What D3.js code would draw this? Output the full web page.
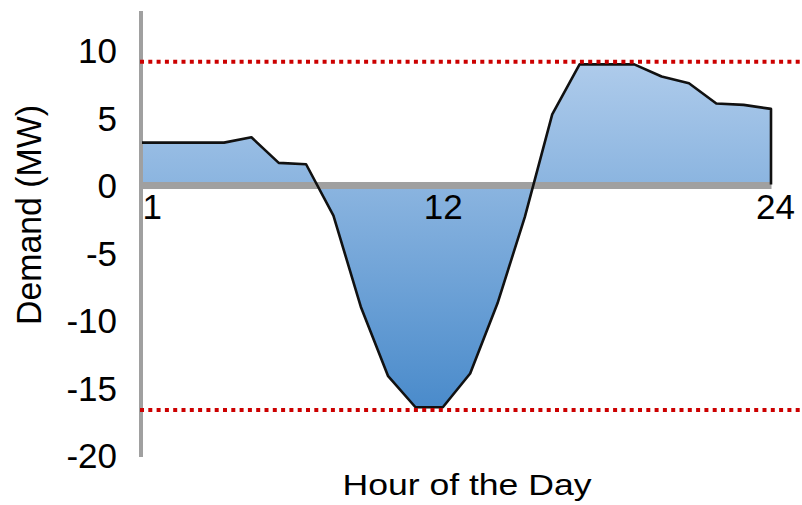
<!DOCTYPE html>
<html>
<head>
<meta charset="utf-8">
<script src="https://cdn.jsdelivr.net/npm/d3@7"></script>
<style>
  body { margin: 0; background: #fff; }
  svg { display: block; font-family: "Liberation Sans", Arial, sans-serif; }
</style>
</head>
<body>
<svg width="802" height="505"></svg>
<script>
// hourly demand
const hours = [1, 2, 3, 4, 5, 6, 7, 8, 9, 10, 11, 12, 13, 14, 15, 16, 17, 18, 19, 20, 21, 22, 23, 24];
const demand = [3.1, 3.1, 3.1, 3.1, 3.5, 1.6, 1.5, -2.3, -9.05, -14.2, -16.5, -16.5,
                -14.0, -8.8, -2.4, 5.2, 8.9, 8.9, 8.9, 8.0, 7.5, 6.0, 5.9, 5.6];
const limits = [9.1, -16.7];
const xTicks = [1, 12, 24];
const yTicks = [10, 5, 0, -5, -10, -15, -20];

const svg = d3.select("svg");
const data = hours.map((h, i) => ({h: h, v: demand[i]}));

const x = d3.scaleLinear().domain([1, 24]).range([142, 771]);
const y = d3.scaleLinear().domain([-20, 10]).range([454.5, 49.5]);

// vertical gradient over the data extent
const grad = svg.append("defs").append("linearGradient")
  .attr("id", "fill")
  .attr("gradientUnits", "userSpaceOnUse")
  .attr("x1", 0).attr("x2", 0)
  .attr("y1", y(d3.max(demand))).attr("y2", y(d3.min(demand)));
grad.append("stop").attr("offset", 0).attr("stop-color", "#aecbeb");
grad.append("stop").attr("offset", 1).attr("stop-color", "#4a8bcb");

const area = d3.area()
  .x(d => x(d.h))
  .y0(y(0))
  .y1(d => y(d.v));
svg.append("path")
  .datum(data)
  .attr("fill", "url(#fill)")
  .attr("d", area);

// y axis labels (plain hyphen, like the original)
const yAxis = svg.append("g")
  .attr("transform", "translate(141,0)")
  .call(d3.axisLeft(y).tickValues(yTicks).tickFormat(d => String(d)).tickSize(0).tickPadding(24));
yAxis.select(".domain").remove();
yAxis.selectAll("text")
  .attr("dy", "0.38em")
  .attr("fill", "#000")
  .style("font-size", "35px")
  .style("font-family", "'Liberation Sans', Arial, sans-serif");

svg.append("line")
  .attr("x1", 141).attr("x2", 141)
  .attr("y1", 11).attr("y2", 457)
  .attr("stroke", "#a0a0a0")
  .attr("stroke-width", 4);

// x axis sits on zero
const xAxis = svg.append("g")
  .attr("transform", `translate(0,${y(0) + 0.5})`)
  .call(d3.axisBottom(x).tickValues(xTicks).tickSize(0).tickSizeOuter(0).tickPadding(9));
xAxis.select(".domain")
  .attr("stroke", "#a0a0a0")
  .attr("stroke-width", 7);
xAxis.selectAll("text")
  .attr("fill", "#000")
  .style("font-size", "35px")
  .style("font-family", "'Liberation Sans', Arial, sans-serif")
  .attr("text-anchor", d => d === xTicks[0] ? "start" : "middle")
  .attr("dx", d => d === xTicks[xTicks.length - 1] ? 4 : 0);

// outline, closed down to zero on the right
const line = d3.line().x(d => x(d.h)).y(d => y(d.v));
svg.append("path")
  .datum(data.concat([{h: hours[hours.length - 1], v: 0}]))
  .attr("fill", "none")
  .attr("stroke", "#111")
  .attr("stroke-width", 2.6)
  .attr("stroke-linejoin", "round")
  .attr("d", line);

// red dotted limits
svg.selectAll(".limit")
  .data(limits).enter()
  .append("line")
  .attr("class", "limit")
  .attr("x1", 140).attr("x2", 802)
  .attr("y1", d => y(d)).attr("y2", d => y(d))
  .attr("stroke", "#cc0000")
  .attr("stroke-width", 4)
  .attr("stroke-dasharray", "4,4.3");

// axis titles
svg.append("text")
  .attr("x", 467).attr("y", 495)
  .attr("text-anchor", "middle")
  .attr("textLength", 249)
  .attr("lengthAdjust", "spacingAndGlyphs")
  .style("font-size", "30px")
  .text("Hour of the Day");

svg.append("text")
  .attr("transform", "translate(41,215) rotate(-90)")
  .attr("text-anchor", "middle")
  .attr("textLength", 220)
  .attr("lengthAdjust", "spacingAndGlyphs")
  .style("font-size", "35px")
  .text("Demand (MW)");
</script>
</body>
</html>
